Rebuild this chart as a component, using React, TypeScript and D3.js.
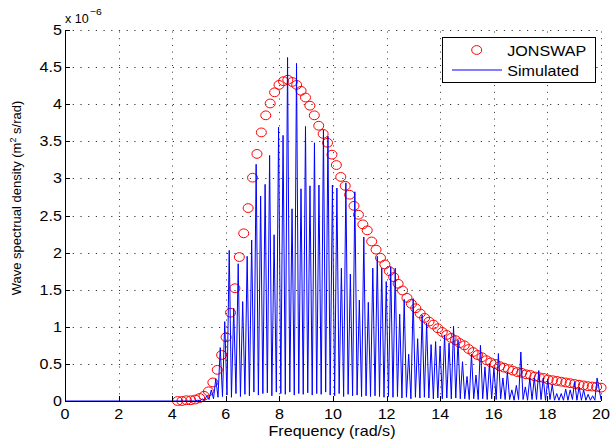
import React from "react";
import * as d3 from "d3";

// ---- data (values in units of 1e-6 m^2 s/rad) ----
const xTicks = [0, 2, 4, 6, 8, 10, 12, 14, 16, 18, 20];
const yTicks = [0, 0.5, 1, 1.5, 2, 2.5, 3, 3.5, 4, 4.5, 5];
const yTickLabels = ["0", "0.5", "1", "1.5", "2", "2.5", "3", "3.5", "4", "4.5", "5"];

// JONSWAP target spectrum (circles), frequency grid start/step
const JONSWAP_START = 4.2;
const JONSWAP_STEP = 0.1646;
const jonswapVals = [
  0.0, 0.0, 0.01, 0.01, 0.02, 0.04, 0.07, 0.13, 0.25, 0.42,
  0.62, 0.86, 1.19, 1.52, 1.94, 2.26, 2.6, 3.01, 3.33, 3.62,
  3.85, 4.01, 4.16, 4.26, 4.31, 4.33, 4.3, 4.26, 4.18, 4.09,
  3.98, 3.85, 3.71, 3.6, 3.48, 3.32, 3.18, 3.02, 2.9, 2.78,
  2.63, 2.51, 2.38, 2.3, 2.15, 2.04, 1.93, 1.84, 1.75, 1.67,
  1.58, 1.49, 1.39, 1.31, 1.25, 1.18, 1.12, 1.07, 1.03, 0.98,
  0.93, 0.89, 0.85, 0.82, 0.78, 0.75, 0.7, 0.66, 0.62, 0.59,
  0.55, 0.52, 0.5, 0.47, 0.45, 0.43, 0.41, 0.39, 0.38, 0.36,
  0.35, 0.33, 0.32, 0.31, 0.29, 0.28, 0.27, 0.26, 0.25, 0.24,
  0.23, 0.22, 0.21, 0.2, 0.195, 0.19, 0.18,
];

// Simulated spectrum: spike peaks on a regular grid, valleys between them
const SPIKE_START = 4.956;
const SPIKE_STEP = 0.1674;
const spikeVals = [
  0.01, 0.03, 0.07,
  0.15, 0.3, 0.72, 1.07, 2.03, 1.25, 1.85, 1.34, 1.95, 2.17, 3.19, 2.76, 2.92, 3.31, 2.24, 3.69, 3.58,
  4.63, 2.59, 4.55, 2.86, 3.7, 2.9, 3.48, 2.91, 3.65, 3.57, 2.91, 2.87, 1.79, 2.94, 1.71, 2.82, 1.36, 2.21, 1.33,
  1.79, 1.95, 1.79, 1.61, 1.81, 1.79, 1.17, 1.37, 0.63, 1.38, 0.84, 1.16, 1.05, 0.76, 0.8, 0.74, 0.89, 0.78, 1.01, 0.82,
  0.53, 0.33, 0.63, 0.35, 0.75, 0.46, 0.5, 0.45, 0.64, 0.31, 0.39, 0.15, 0.21, 0.66, 0.19, 0.31, 0.31, 0.41, 0.31, 0.29,
  0.22, 0.1, 0.1, 0.16, 0.15, 0.26, 0.19, 0.15, 0.09, 0.07, 0.31,
];
const valleyVals = [
  0.0, 0.01, 0.02,
  0.03, 0.05, 0.06, 0.08, 0.05, 0.1, 0.06, 0.09, 0.07, 0.12, 0.08, 0.1, 0.11, 0.07, 0.12, 0.1,
  0.09,
  0.12, 0.08, 0.1, 0.09, 0.11, 0.08, 0.1, 0.09, 0.12, 0.08, 0.07, 0.1, 0.06, 0.09, 0.07, 0.08, 0.06, 0.07,
  0.06,
  0.07, 0.06, 0.05, 0.06, 0.05, 0.06, 0.04, 0.05, 0.03, 0.05, 0.04, 0.05, 0.04, 0.03, 0.04, 0.03, 0.04, 0.03, 0.04,
  0.03,
  0.03, 0.02, 0.03, 0.02, 0.03, 0.02, 0.03, 0.02, 0.03, 0.02, 0.02, 0.01, 0.02, 0.02, 0.01, 0.02, 0.02, 0.02, 0.01,
  0.02, 0.01, 0.01, 0.01, 0.01, 0.02, 0.01, 0.01, 0.01, 0.01, 0.01,
];
const simBaseFreq = [0, 4.85];
const simBaseVals = [0, 0];
const simEndFreq = [20];
const simEndVals = [0.02];

const FONT = "'Liberation Sans', Arial, Helvetica, sans-serif";
const SX = 1.15;

function Txt({ x, y, anchor = "start", size = 14, sx = SX, children }: any) {
  return (
    <text
      transform={`translate(${x},${y}) scale(${sx},1)`}
      textAnchor={anchor}
      fontSize={size}
      fontFamily={FONT}
      fill="#000"
    >
      {children}
    </text>
  );
}

export default function App() {
  const W = 611;
  const H = 446;
  const x = d3.scaleLinear().domain([0, 20]).range([65, 601]);
  const y = d3.scaleLinear().domain([0, 5]).range([401, 30]);
  const x0 = x(0), x1 = x(20), y0 = y(0), y1 = y(5);

  // build simulated line
  const pts: [number, number][] = [];
  simBaseFreq.forEach((f, i) => pts.push([f, simBaseVals[i]]));
  let prevF = 0;
  spikeVals.forEach((v, i) => {
    const f = SPIKE_START + i * SPIKE_STEP;
    if (i > 0) pts.push([(prevF + f) / 2, valleyVals[i - 1]]);
    pts.push([f, v]);
    prevF = f;
  });
  simEndFreq.forEach((f, i) => pts.push([f, simEndVals[i]]));
  const line = d3
    .line<[number, number]>()
    .x((d) => x(d[0]))
    .y((d) => y(d[1]));

  const jonswap = jonswapVals.map((v, i) => [JONSWAP_START + i * JONSWAP_STEP, v]);

  return (
    <svg
      width={W}
      height={H}
      style={{ position: "absolute", left: 0, top: 0, background: "#fff" }}
    >
      <rect x={0} y={0} width={W} height={H} fill="#fff" />
      {/* grid */}
      {xTicks.filter((t) => t !== 0).map((t) => (
        <line
          key={"gx" + t}
          x1={Math.round(x(t)) + 0.5}
          x2={Math.round(x(t)) + 0.5}
          y1={y0}
          y2={y1}
          stroke="#333"
          strokeWidth={1}
          strokeDasharray="1 5.7"
        />
      ))}
      {yTicks.filter((t) => t !== 0).map((t) => (
        <line
          key={"gy" + t}
          x1={x0}
          x2={x1}
          y1={Math.round(y(t)) + 0.5}
          y2={Math.round(y(t)) + 0.5}
          stroke="#333"
          strokeWidth={1}
          strokeDasharray="1.2 6.5"
        />
      ))}
      {/* JONSWAP circles */}
      {jonswap.map((d, i) => (
        <ellipse
          key={"c" + i}
          cx={x(d[0])}
          cy={y(d[1])}
          rx={5}
          ry={4.4}
          fill="none"
          stroke="#ff0000"
          strokeWidth={1}
        />
      ))}
      {/* simulated */}
      <path d={line(pts) || ""} fill="none" stroke="#0000ff" strokeWidth={1} strokeLinejoin="round" />
      {/* axes */}
      <line x1={x0 + 0.5} x2={x0 + 0.5} y1={y1} y2={y0 + 0.5} stroke="#000" strokeWidth={1} />
      <line x1={x0} x2={x1} y1={y0 + 0.5} y2={y0 + 0.5} stroke="#000" strokeWidth={1} />
      {xTicks.map((t) => (
        <line
          key={"tx" + t}
          x1={Math.round(x(t)) + 0.5}
          x2={Math.round(x(t)) + 0.5}
          y1={y0}
          y2={y0 - 5}
          stroke="#000"
          strokeWidth={1}
        />
      ))}
      {yTicks.map((t) => (
        <line
          key={"ty" + t}
          x1={x0}
          x2={x0 + 5}
          y1={Math.round(y(t)) + 0.5}
          y2={Math.round(y(t)) + 0.5}
          stroke="#000"
          strokeWidth={1}
        />
      ))}
      {/* tick labels */}
      {xTicks.map((t) => (
        <Txt key={"lx" + t} x={x(t)} y={419} anchor="middle">
          {String(t)}
        </Txt>
      ))}
      {yTicks.map((t, i) => (
        <Txt key={"ly" + t} x={62} y={y(t) + 5} anchor="end">
          {yTickLabels[i]}
        </Txt>
      ))}
      {/* exponent */}
      <Txt x={65} y={23} size={12.5} sx={1.0}>x 10</Txt>
      <Txt x={90} y={15} size={9.5} sx={1.1}>{"\u22126"}</Txt>
      {/* axis titles */}
      <Txt x={332} y={435.5} anchor="middle">Frequency (rad/s)</Txt>
      <text
        transform="translate(21,198) rotate(-90)"
        textAnchor="middle"
        fontSize={13}
        fontFamily={FONT}
        fill="#000"
      >
        Wave spectrual density (m
        <tspan fontSize={9} dy={-5}>2</tspan>
        <tspan dy={5}> s/rad)</tspan>
      </text>
      {/* legend */}
      <rect x={442.5} y={37.5} width={153} height={45} fill="#fff" stroke="#000" strokeWidth={1} />
      <ellipse cx={476.7} cy={50} rx={5} ry={4.4} fill="none" stroke="#ff0000" strokeWidth={1} />
      <line x1={452} x2={502} y1={70} y2={70} stroke="#0000ff" strokeWidth={1.1} />
      <Txt x={507.3} y={56}>JONSWAP</Txt>
      <Txt x={507.3} y={76}>Simulated</Txt>
    </svg>
  );
}
